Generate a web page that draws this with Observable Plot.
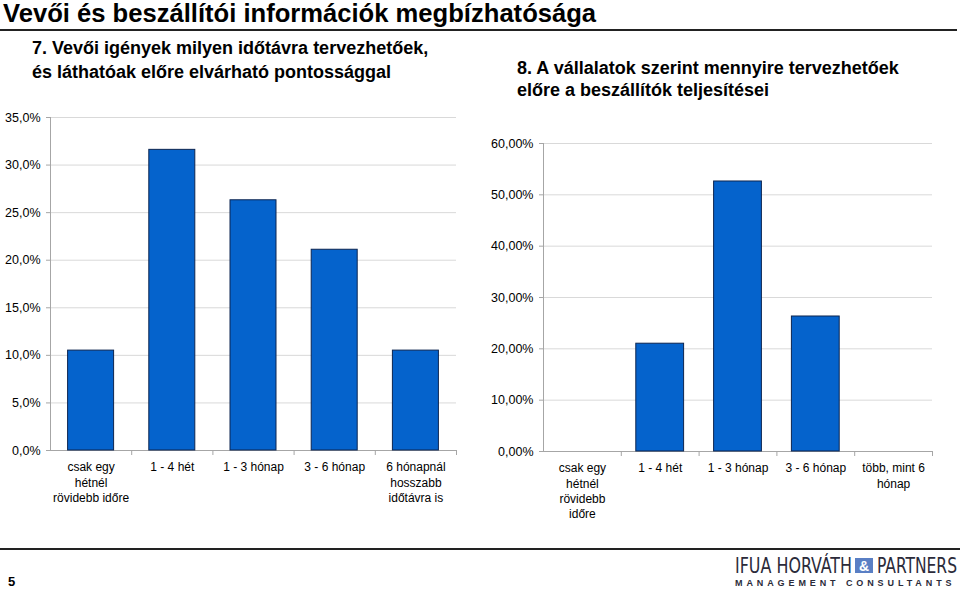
<!DOCTYPE html>
<html>
<head>
<meta charset="utf-8">
<script src="https://cdn.jsdelivr.net/npm/d3@7"></script>
<script src="https://cdn.jsdelivr.net/npm/@observablehq/plot@0.6"></script>
<style>
  html, body { margin: 0; padding: 0; background: #fff; }
  #page { position: relative; width: 960px; height: 589px; overflow: hidden; background: #fff;
          font-family: "Liberation Sans", Arial, sans-serif; color: #000; }
  .abs { position: absolute; white-space: nowrap; }
  #title { left: 3px; top: -2px; font-size: 25.6px; line-height: 30px; font-weight: bold; }
  #rule-top { left: 0; top: 29px; width: 957px; height: 2px; background: #222; }
  #sub7 { left: 32px; top: 36px; font-size: 18px; line-height: 24px; font-weight: bold; }
  #sub8 { left: 517px; top: 57px; font-size: 18px; line-height: 22px; font-weight: bold; }
  #chart7 { left: 0; top: 105px; }
  #chart8 { left: 480px; top: 130px; }
  #rule-bottom { left: 0; top: 548px; width: 960px; height: 2px; background: #222; }
  #pagenum { left: 8px; top: 575px; font-size: 13px; line-height: 14px; font-weight: bold; }
  #logo { left: 730px; top: 551px; }
</style>
</head>
<body>
<div id="page">
  <div id="title" class="abs">Vevői és beszállítói információk megbízhatósága</div>
  <div id="rule-top" class="abs"></div>
  <div id="sub7" class="abs">7. Vevői igények milyen időtávra tervezhetőek,<br>és láthatóak előre elvárható pontossággal</div>
  <div id="sub8" class="abs">8. A vállalatok szerint mennyire tervezhetőek<br>előre a beszállítók teljesítései</div>
  <div id="chart7" class="abs"></div>
  <div id="chart8" class="abs"></div>
  <div id="rule-bottom" class="abs"></div>
  <div id="pagenum" class="abs">5</div>
  <svg id="logo" class="abs" width="230" height="38">
    <text x="5" y="22" font-family="Liberation Sans Narrow, DejaVu Sans Condensed, Liberation Sans, Arial" font-size="21" fill="#2b2b3a" textLength="117" lengthAdjust="spacingAndGlyphs">IFUA HORVÁTH</text>
    <rect x="125" y="7" width="18" height="15" fill="#5a7fc4"></rect>
    <text x="134" y="20" text-anchor="middle" font-family="Liberation Sans, Arial" font-size="14" font-weight="bold" fill="#ffffff">&amp;</text>
    <text x="147" y="22" font-family="Liberation Sans Narrow, DejaVu Sans Condensed, Liberation Sans, Arial" font-size="21" fill="#2b2b3a" textLength="80" lengthAdjust="spacingAndGlyphs">PARTNERS</text>
    <text x="5" y="35" font-family="Liberation Sans, Arial" font-size="9" font-weight="bold" fill="#2b2b3a" letter-spacing="3.9">MANAGEMENT CONSULTANTS</text>
  </svg>
</div>
<script>
// Chart 7 data
const categories7 = ["csak egy\nhétnél\nrövidebb időre", "1 - 4 hét", "1 - 3 hónap", "3 - 6 hónap", "6 hónapnál\nhosszabb\nidőtávra is"];
const values7 = [0.105, 0.316, 0.263, 0.211, 0.105];
const yTicks7 = [0, 0.05, 0.10, 0.15, 0.20, 0.25, 0.30, 0.35];

// Chart 8 data
const categories8 = ["csak egy\nhétnél\nrövidebb\nidőre", "1 - 4 hét", "1 - 3 hónap", "3 - 6 hónap", "több, mint 6\nhónap"];
const values8 = [0, 0.21, 0.526, 0.263, 0];
const yTicks8 = [0, 0.10, 0.20, 0.30, 0.40, 0.50, 0.60];

const fmt1 = d => (d * 100).toFixed(1).replace(".", ",") + "%";
const fmt2 = d => (d * 100).toFixed(2).replace(".", ",") + "%";

function chart({cats, vals, ticks, fmt, width, height, ml, mr, mt, mb, yMax, inset}) {
  const data = cats.map((c, i) => ({c, i, v: vals[i]}));
  const n = cats.length;
  return Plot.plot({
    width, height,
    marginLeft: ml, marginRight: mr, marginTop: mt, marginBottom: mb,
    style: {fontFamily: "Liberation Sans, Arial, sans-serif", fontSize: "12px", color: "#000", background: "#fff", overflow: "visible"},
    x: {domain: [0, n], axis: null},
    y: {domain: [0, yMax], axis: null},
    marks: [
      Plot.ruleY(ticks, {stroke: "#d9d9d9", strokeWidth: 1}),
      Plot.ruleX([0], {stroke: "#a6a6a6"}),
      Plot.ruleY([0], {stroke: "#a6a6a6"}),
      Plot.axisY({ticks, tickFormat: fmt, tickSize: 4, tickPadding: 6, stroke: "#a6a6a6", fontSize: 12.5, anchor: "left", label: null}),
      Plot.axisX({ticks: d3.range(1, n + 1), tickSize: 5, tickFormat: () => "", stroke: "#a6a6a6", anchor: "bottom", label: null}),
      Plot.rectY(data.filter(d => d.v > 0), {
        x1: "i", x2: d => d.i + 1, y: "v",
        fill: "#0563cc", stroke: "#0d2550", strokeWidth: 1,
        insetLeft: inset, insetRight: inset
      }),
      Plot.text(data, {x: d => d.i + 0.5, text: "c", frameAnchor: "bottom", lineAnchor: "top", dy: 10, fontSize: 12, lineHeight: 1.27, fill: "#000"})
    ]
  });
}

document.getElementById("chart7").append(chart({
  cats: categories7, vals: values7, ticks: yTicks7, fmt: fmt1,
  width: 470, height: 420, ml: 50, mr: 14, mt: 12, mb: 75, yMax: 0.35, inset: 17.6
}));

document.getElementById("chart8").append(chart({
  cats: categories8, vals: values8, ticks: yTicks8, fmt: fmt2,
  width: 480, height: 400, ml: 63, mr: 28, mt: 13, mb: 79, yMax: 0.6, inset: 15
}));
</script>
</body>
</html>
